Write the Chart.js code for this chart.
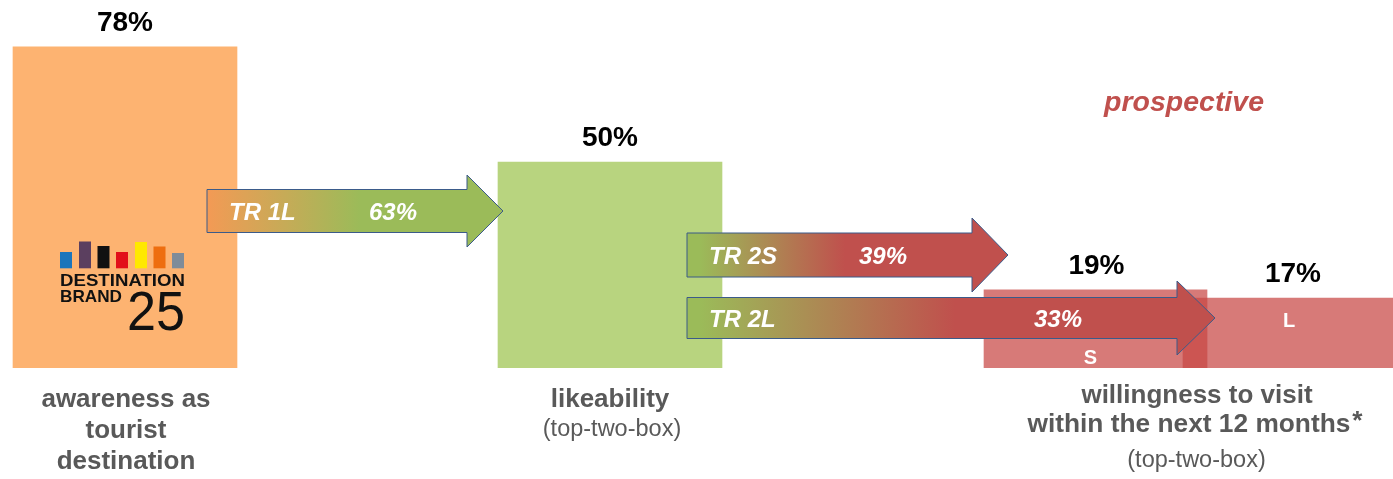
<!DOCTYPE html>
<html><head><meta charset="utf-8">
<script src="https://cdn.jsdelivr.net/npm/chart.js@4/dist/chart.umd.min.js"></script>
<style>html,body{margin:0;padding:0;background:#fff;overflow:hidden}#wrap{width:1393px;height:479px;position:relative}</style>
</head><body><div id="wrap"><canvas id="c" width="1393" height="479"></canvas></div>
<script>
// ---- data ----
const categories = ['awareness as tourist destination', 'likeability', 'willingness to visit (S)', 'willingness to visit (L)'];
const values = [78, 50, 19, 17];
const valueLabels = ['78%', '50%', '19%', '17%'];
const barTags = ['', '', 'S', 'L'];
const transitionNames = ['TR 1L', 'TR 2S', 'TR 2L'];
const transitionRates = [63, 39, 33];

// ---- layout / style (not data) ----
const FONT = '"Liberation Sans", Arial, Helvetica, sans-serif';
const barCenters = [125, 610, 1095.5, 1288];
const barWidths = [224, 224, 223, 210];
const barColors = ['#FDB371', '#B8D47F', 'rgba(200,70,68,0.72)', 'rgba(200,70,68,0.72)'];
const arrows = [
  {x0: 207, xh: 467, xt: 503, yc: 211, bh: 21.5, hh: 36, g0: 207, g1: 360, c0: '#F39A55', c1: '#9BBB59', tx: 229, vx: 393},
  {x0: 687, xh: 972, xt: 1008, yc: 255, bh: 22, hh: 37, g0: 700, g1: 845, c0: '#9BBB59', c1: '#C0504D', tx: 709, vx: 883},
  {x0: 687, xh: 1177, xt: 1215, yc: 318, bh: 20.5, hh: 37, g0: 700, g1: 955, c0: '#9BBB59', c1: '#C0504D', tx: 709, vx: 1058}
];

function fitText(ctx, txt, x, y, w) {
  const m = ctx.measureText(txt).width;
  ctx.save();
  ctx.translate(x, y);
  ctx.scale(w / m, 1);
  ctx.fillText(txt, 0, 0);
  ctx.restore();
}

const deco = {
  id: 'deco',
  afterDatasetsDraw(chart) {
    const ctx = chart.ctx;
    const xs = chart.scales.x, ys = chart.scales.y;
    const X = v => xs.getPixelForValue(v);
    ctx.save();
    // logo
    const logoBars = [[60, 252, '#1B75BB'], [79, 241.5, '#5B3F5F'], [97.5, 246, '#111111'], [116, 252, '#E2101A'], [135, 242, '#FFE800'], [153.5, 246.5, '#EE6E0F'], [172, 253, '#7F8C99']];
    logoBars.forEach(b => { ctx.fillStyle = b[2]; ctx.fillRect(X(b[0]), b[1], 12, 268.3 - b[1]); });
    ctx.fillStyle = '#111';
    ctx.textAlign = 'left'; ctx.textBaseline = 'alphabetic';
    ctx.font = 'bold 17px ' + FONT;
    fitText(ctx, 'DESTINATION', X(60), 285.5, 125);
    fitText(ctx, 'BRAND', X(60), 301.5, 62);
    ctx.font = '56px ' + FONT;
    fitText(ctx, '25', X(127), 330, 58);

    // arrows
    arrows.forEach((a, i) => {
      const g = ctx.createLinearGradient(X(a.g0), 0, X(a.g1), 0);
      g.addColorStop(0, a.c0); g.addColorStop(1, a.c1);
      ctx.beginPath();
      ctx.moveTo(X(a.x0), a.yc - a.bh);
      ctx.lineTo(X(a.xh), a.yc - a.bh);
      ctx.lineTo(X(a.xh), a.yc - a.hh);
      ctx.lineTo(X(a.xt), a.yc);
      ctx.lineTo(X(a.xh), a.yc + a.hh);
      ctx.lineTo(X(a.xh), a.yc + a.bh);
      ctx.lineTo(X(a.x0), a.yc + a.bh);
      ctx.closePath();
      ctx.fillStyle = g; ctx.fill();
      ctx.lineWidth = 1; ctx.strokeStyle = '#3B5B8A'; ctx.stroke();
      ctx.fillStyle = '#fff';
      ctx.font = 'italic bold 24px ' + FONT;
      ctx.textAlign = 'left';
      ctx.fillText(transitionNames[i], X(a.tx), a.yc + 8.6);
      ctx.textAlign = 'center';
      ctx.fillText(transitionRates[i] + '%', X(a.vx), a.yc + 8.6);
    });

    // value labels
    ctx.textAlign = 'center';
    ctx.fillStyle = '#000';
    ctx.font = 'bold 28px ' + FONT;
    values.forEach((v, i) => {
      ctx.fillText(valueLabels[i], X(barCenters[i]) + (i === 2 ? 1 : (i === 3 ? 5 : 0)), ys.getPixelForValue(v) - 16);
    });
    // S / L tags
    ctx.fillStyle = '#fff';
    ctx.font = 'bold 20px ' + FONT;
    ctx.fillText(barTags[2], X(barCenters[2]) - 5, 364);
    ctx.fillText(barTags[3], X(barCenters[3]) + 1, 327);

    // prospective
    ctx.fillStyle = '#C0504D';
    ctx.font = 'italic bold 28.5px ' + FONT;
    ctx.fillText('prospective', X(1184), 111);

    // category labels
    ctx.fillStyle = '#595959';
    ctx.font = 'bold 26px ' + FONT;
    ctx.fillText('awareness as', X(126), 407);
    ctx.fillText('tourist', X(126), 438);
    ctx.fillText('destination', X(126), 469);
    ctx.fillText('likeability', X(610), 407);
    ctx.fillText('willingness to visit', X(1197), 403);
    ctx.font = 'bold 26.3px ' + FONT;
    const l2 = 'within the next 12 months';
    const w2 = ctx.measureText(l2).width;
    const wa = ctx.measureText('*').width + 2;
    const sx = X(1195) - (w2 + wa) / 2;
    ctx.textAlign = 'left';
    ctx.fillText(l2, sx, 432);
    ctx.fillText('*', sx + w2 + 2, 429);
    ctx.textAlign = 'center';
    ctx.font = '23.5px ' + FONT;
    ctx.fillText('(top-two-box)', X(612), 436);
    ctx.fillText('(top-two-box)', X(1196.5), 467);
    ctx.restore();
  }
};

new Chart(document.getElementById('c'), {
  type: 'bar',
  data: {
    datasets: values.map((v, i) => ({
      label: categories[i],
      data: [{x: barCenters[i], y: v}],
      backgroundColor: barColors[i],
      barThickness: barWidths[i],
      grouped: false,
      borderWidth: 0
    }))
  },
  options: {
    responsive: false,
    devicePixelRatio: 1,
    animation: false,
    events: [],
    layout: {padding: {top: 0, left: 0, right: 0, bottom: 111}},
    scales: {
      x: {type: 'linear', min: 0, max: 1393, offset: false, display: false},
      y: {min: 0, max: 89.4, display: false}
    },
    plugins: {legend: {display: false}, tooltip: {enabled: false}}
  },
  plugins: [deco]
});
</script>
</body></html>
